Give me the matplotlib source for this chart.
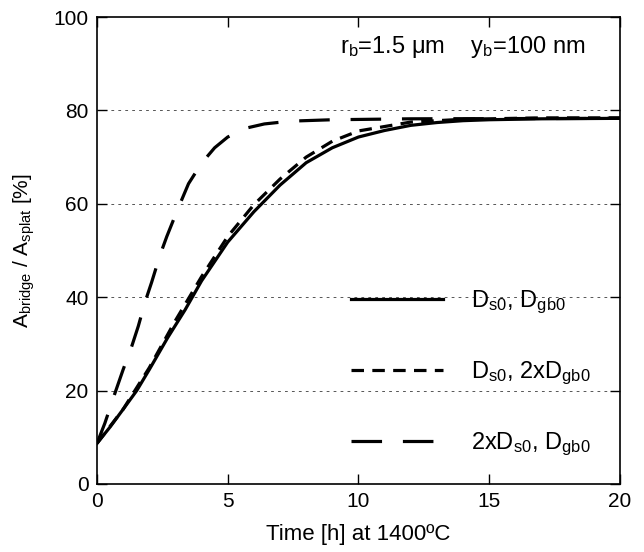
import matplotlib
matplotlib.use("Agg")
import matplotlib.pyplot as plt

plt.rcParams['font.family'] = ['Liberation Sans', 'DejaVu Sans']
plt.rcParams['mathtext.fontset'] = 'custom'
plt.rcParams['mathtext.rm'] = 'Liberation Sans'
plt.rcParams['mathtext.it'] = 'Liberation Sans'
plt.rcParams['lines.scale_dashes'] = False

# Ds0, Dgb0 (solid)
t_base = [0, 0.5, 1.0, 1.52, 2.0, 2.7, 3.37, 4.0, 5.0, 6.0, 7.0, 8.0, 9.0, 10.0, 11.0, 12.0, 13.0, 14.0, 15.0, 17.0, 20.0]
a_base = [8.7, 12.2, 16.0, 20.0, 24.5, 31.3, 37.3, 43.5, 51.8, 58.3, 64.0, 68.8, 72.0, 74.3, 75.7, 76.8, 77.4, 77.8, 78.0, 78.2, 78.3]

# Ds0, 2xDgb0 (short dash)
t_gb = [0, 1.0, 2.0, 3.0, 4.0, 5.0, 6.0, 7.0, 8.0, 9.0, 10.0, 12.0, 14.0, 17.0, 20.0]
a_gb = [8.7, 16.0, 24.9, 35.0, 44.4, 53.0, 59.8, 65.3, 70.0, 73.4, 75.6, 77.5, 78.1, 78.4, 78.4]

# 2xDs0, Dgb0 (long dash)
t_s = [0, 0.3, 0.69, 1.0, 1.33, 1.58, 1.84, 2.09, 2.41, 2.67, 3.1, 3.5, 4.0, 4.5, 5.0, 5.7, 6.4, 7.4, 9.0, 12.0, 20.0]
a_s = [8.7, 13.0, 19.5, 24.5, 29.5, 33.8, 39.0, 43.2, 49.0, 53.0, 59.0, 64.3, 68.7, 72.0, 74.3, 76.2, 77.1, 77.7, 78.0, 78.2, 78.3]

labels = [r'D$_\mathregular{s0}$, D$_\mathregular{gb0}$',
          r'D$_\mathregular{s0}$, 2xD$_\mathregular{gb0}$',
          r'2xD$_\mathregular{s0}$, D$_\mathregular{gb0}$']

fig = plt.figure(figsize=(6.44, 5.52), dpi=100)
ax = fig.add_axes([0.1506, 0.1232, 0.8121, 0.846])

for y in [20, 40, 60, 80]:
    ax.axhline(y, color='#555555', lw=0.7, ls=(0, (2, 3)), zorder=0)

ax.plot(t_base, a_base, color='black', lw=2.3, label=labels[0])
ax.plot(t_gb, a_gb, color='black', lw=2.3, ls=(0, (9, 6)), label=labels[1])
ax.plot(t_s, a_s, color='black', lw=2.3, ls=(0, (22, 15)), label=labels[2])

ax.set_xlim(0, 20)
ax.set_ylim(0, 100)
ax.set_xticks([0, 5, 10, 15, 20])
ax.set_yticks([0, 20, 40, 60, 80, 100])
ax.tick_params(direction='in', top=True, right=True, length=7, width=1,
               labelsize=15, pad=6)
for s in ax.spines.values():
    s.set_linewidth(1.2)

ax.set_xlabel('Time [h] at 1400ºC', fontsize=16, labelpad=9)
ax.set_ylabel(r'A$_\mathregular{bridge}$ / A$_\mathregular{splat}$ [%]', fontsize=15, labelpad=12)

ax.text(0.465, 0.935, r'r$_\mathregular{b}$=1.5 μm    y$_\mathregular{b}$=100 nm',
        transform=ax.transAxes, fontsize=17, va='center', ha='left')

ax.legend(loc='lower right', bbox_to_anchor=(0.985, 0.01), frameon=False,
          fontsize=17, handlelength=3.9, handletextpad=1.2, labelspacing=1.85)

fig.savefig('out.png', dpi=100)
